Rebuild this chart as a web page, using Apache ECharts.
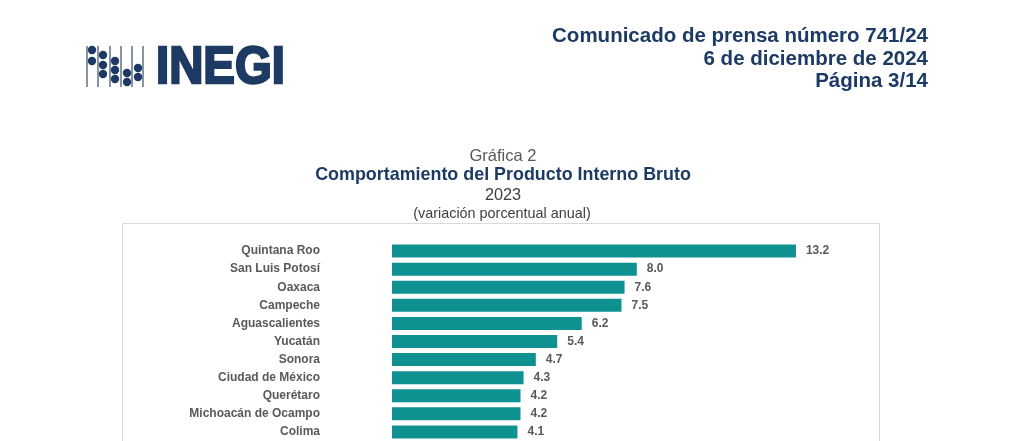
<!DOCTYPE html>
<html>
<head>
<meta charset="utf-8">
<script src="https://cdn.jsdelivr.net/npm/echarts@6/dist/echarts.min.js"></script>
<style>
html,body{margin:0;padding:0;background:#fff;}
#c{width:1024px;height:441px;}
</style>
</head>
<body>
<div id="c"></div>
<script>
const categories = ['Quintana Roo','San Luis Potosí','Oaxaca','Campeche','Aguascalientes','Yucatán','Sonora','Ciudad de México','Querétaro','Michoacán de Ocampo','Colima'];
const values = [13.2, 8.0, 7.6, 7.5, 6.2, 5.4, 4.7, 4.3, 4.2, 4.2, 4.1];
const headerLines = ['Comunicado de prensa número 741/24','6 de diciembre de 2024','Página 3/14'];
const titleLines = ['Gráfica 2','Comportamiento del Producto Interno Bruto','2023','(variación porcentual anual)'];

const NAVY = '#1c3a63';
const FONT = '"Liberation Sans", Arial, sans-serif';

const chart = echarts.init(document.getElementById('c'), null, {renderer:'canvas'});

// logo pieces
const logo = [];
[87, 98, 110, 121, 132, 143].forEach(x => {
  logo.push({type:'line', shape:{x1:x, y1:46, x2:x, y2:87}, style:{stroke:'#55657f', lineWidth:1.4}});
});
const dots = [[92,[50,61]],[103,[55,65,74]],[115,[61,70,79]],[127,[73,82]],[138,[68,77]]];
dots.forEach(([x, ys]) => ys.forEach(y => {
  logo.push({type:'circle', shape:{cx:x, cy:y, r:4.2}, style:{fill:NAVY}});
}));
logo.push({type:'text', x:156, y:69, scaleX:0.91, style:{text:'INEGI', fill:NAVY, stroke:NAVY, lineWidth:2.4, font:'bold 52px ' + FONT, textAlign:'left', textVerticalAlign:'middle'}});

const header = headerLines.map((t, i) => ({
  type:'text', style:{text:t, x:928, y:36.5 + i*22.5, fill:NAVY, font:'bold 20.5px ' + FONT, textAlign:'right', textVerticalAlign:'middle'}
}));

const titles = [
  {type:'text', style:{text:titleLines[0], x:503, y:156, fill:'#595959', font:'16.5px ' + FONT, textAlign:'center', textVerticalAlign:'middle'}},
  {type:'text', style:{text:titleLines[1], x:503, y:175.5, fill:NAVY, font:'bold 17.9px ' + FONT, textAlign:'center', textVerticalAlign:'middle'}},
  {type:'text', style:{text:titleLines[2], x:503, y:196, fill:'#404040', font:'16.3px ' + FONT, textAlign:'center', textVerticalAlign:'middle'}},
  {type:'text', style:{text:titleLines[3], x:502, y:214.5, fill:'#404040', font:'14.4px ' + FONT, textAlign:'center', textVerticalAlign:'middle'}}
];

const box = {type:'rect', shape:{x:122.5, y:223.5, width:757, height:240}, style:{fill:'none', stroke:'#d9d9d9', lineWidth:1}, z:-1};

chart.setOption({
  backgroundColor:'#ffffff',
  animation:false,
  grid:{left:392, top:242, width:428.4, height:203.5, containLabel:false},
  xAxis:{type:'value', min:0, max:14, show:false},
  yAxis:{
    type:'category', data:categories, inverse:true,
    axisLine:{show:false}, axisTick:{show:false}, splitLine:{show:false},
    axisLabel:{margin:72, color:'#595959', fontWeight:'bold', fontSize:12, fontFamily:FONT}
  },
  series:[{
    type:'bar', data:values, barWidth:13,
    itemStyle:{color:'#109191'},
    label:{show:true, position:'right', distance:10, color:'#595959', fontWeight:'bold', fontSize:12, fontFamily:FONT,
      formatter: p => p.value.toFixed(1)}
  }],
  graphic:[box].concat(logo, header, titles)
});
</script>
</body>
</html>
